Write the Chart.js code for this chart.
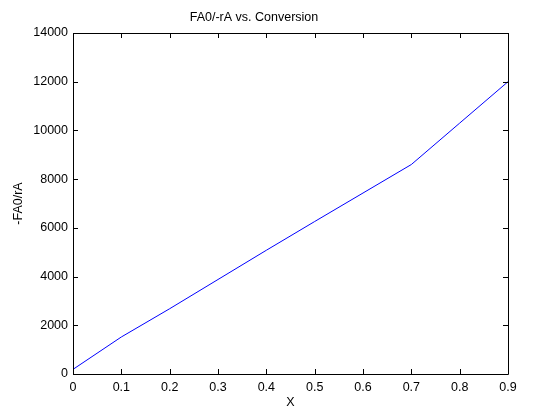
<!DOCTYPE html>
<html>
<head>
<meta charset="utf-8">
<script src="https://cdn.jsdelivr.net/npm/chart.js@4/dist/chart.umd.min.js"></script>
<style>
  html, body { margin: 0; padding: 0; background: #fff; }
  #wrap { width: 560px; height: 420px; }
</style>
</head>
<body>
<div id="wrap"><canvas id="plot" width="560" height="420"></canvas></div>
<script>
'use strict';

// conversion X
var conversion = [0, 0.1, 0.2, 0.3, 0.4, 0.5, 0.6, 0.7, 0.8, 0.9];
// -FA0/rA values
var levenspiel = [190, 1520, 2680, 3880, 5080, 6260, 7430, 8600, 10300, 12000];

// axis ranges / ticks
var xMin = 0, xMax = 0.9, xStep = 0.1;
var yMin = 0, yMax = 14000, yStep = 2000;

var chartTitle = 'FA0/-rA vs. Conversion';
var xTitle = 'X';
var yTitle = '-FA0/rA';

var fontFamily = '"Liberation Sans", Arial, Helvetica, sans-serif';

// matlab style box with inward ticks on all four sides
var matlabBox = {
	id: 'matlabBox',
	afterDatasetsDraw: function(chart) {
		var ctx = chart.ctx;
		var a = chart.chartArea;
		var xs = chart.scales.x;
		var ys = chart.scales.y;
		var len = 5;
		ctx.save();
		ctx.strokeStyle = '#000';
		ctx.lineWidth = 1;
		ctx.beginPath();
		ctx.rect(Math.round(a.left) + 0.5, Math.round(a.top) + 0.5,
			Math.round(a.right - a.left), Math.round(a.bottom - a.top));
		xs.ticks.forEach(function(t) {
			var px = Math.round(xs.getPixelForValue(t.value)) + 0.5;
			ctx.moveTo(px, a.bottom);
			ctx.lineTo(px, a.bottom - len);
			ctx.moveTo(px, a.top);
			ctx.lineTo(px, a.top + len);
		});
		ys.ticks.forEach(function(t) {
			var py = Math.round(ys.getPixelForValue(t.value)) + 0.5;
			ctx.moveTo(a.left, py);
			ctx.lineTo(a.left + len, py);
			ctx.moveTo(a.right, py);
			ctx.lineTo(a.right - len, py);
		});
		ctx.stroke();
		ctx.restore();
	}
};

var points = conversion.map(function(x, i) {
	return { x: x, y: levenspiel[i] };
});

var plot = new Chart(document.getElementById('plot'), {
	type: 'line',
	data: {
		datasets: [{
			data: points,
			borderColor: '#0000ff',
			borderWidth: 1,
			pointRadius: 0,
			tension: 0,
			fill: false
		}]
	},
	options: {
		responsive: false,
		animation: false,
		layout: {
			padding: { left: 0, right: 52, top: 0, bottom: 0 }
		},
		plugins: {
			legend: { display: false },
			tooltip: { enabled: false },
			title: {
				display: true,
				text: chartTitle,
				color: '#000',
				font: { family: fontFamily, size: 12.5, weight: 'normal' },
				padding: { top: 10, bottom: 8 }
			}
		},
		scales: {
			x: {
				type: 'linear',
				min: xMin,
				max: xMax,
				grid: { display: false, drawTicks: false },
				border: { display: false },
				ticks: {
					stepSize: xStep,
					padding: 6,
					color: '#000',
					maxRotation: 0,
					font: { family: fontFamily, size: 12.5 },
					callback: function(v) { return String(Math.round(v * 10) / 10); }
				},
				title: {
					display: true,
					text: xTitle,
					color: '#000',
					font: { family: fontFamily, size: 12.5 },
					padding: { top: 0, bottom: 10 }
				},
				afterFit: function(scale) { scale.height = 46; }
			},
			y: {
				type: 'linear',
				min: yMin,
				max: yMax,
				grid: { display: false, drawTicks: false },
				border: { display: false },
				ticks: {
					stepSize: yStep,
					padding: 5,
					color: '#000',
					font: { family: fontFamily, size: 12.5 },
					callback: function(v) { return String(v); }
				},
				title: {
					display: true,
					text: yTitle,
					color: '#000',
					font: { family: fontFamily, size: 12.5 },
					padding: { top: 11, bottom: 0 }
				},
				afterFit: function(scale) { scale.width = 73; }
			}
		}
	},
	plugins: [matlabBox]
});
</script>
</body>
</html>
